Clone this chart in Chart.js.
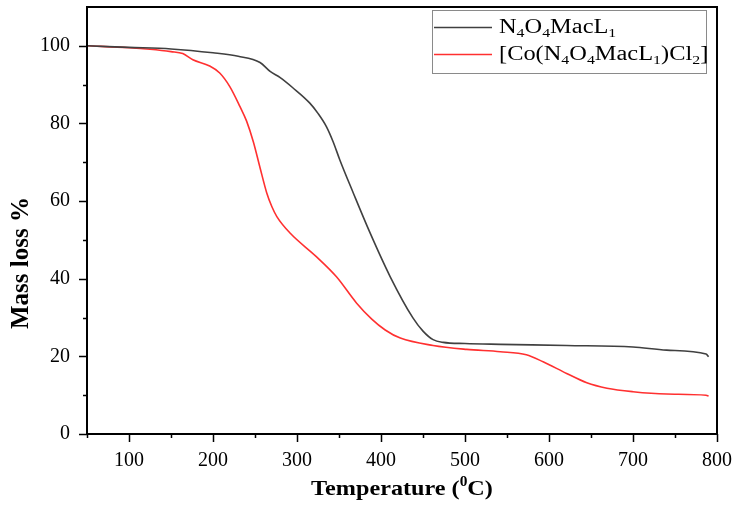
<!DOCTYPE html>
<html>
<head>
<meta charset="utf-8">
<script src="https://cdn.jsdelivr.net/npm/chart.js@4"></script>
<style>
  html, body { margin: 0; padding: 0; background: #fff; }
  #wrap { width: 742px; height: 506px; }
</style>
</head>
<body>
<div id="wrap"><canvas id="tgaChart"></canvas></div>
<script>
// TGA data
const ligandTemp = [50, 100, 150, 200, 230, 256, 268, 280, 295, 315, 325, 335, 343, 351, 367, 387, 411, 438, 450, 462, 474, 500, 542, 621, 700, 740, 787, 790];
const ligandMass = [100, 99.6, 99.2, 98.2, 97.3, 95.7, 93.4, 91.8, 89.2, 85.3, 82.6, 79.2, 75.3, 70.6, 62.1, 51.8, 40.5, 29.9, 26.5, 24.3, 23.6, 23.3, 23.1, 22.8, 22.4, 21.6, 20.6, 19.9];

const complexTemp = [50, 100, 125, 150, 164, 176, 196, 208, 220, 232, 240, 248, 256, 264, 270, 276, 292, 323, 347, 371, 389, 405, 423, 462, 502, 542, 573, 593, 621, 645, 669, 700, 740, 787, 790];
const complexMass = [100, 99.5, 99.1, 98.5, 98.0, 96.4, 94.8, 93.0, 89.5, 84.4, 80.6, 75.3, 68.6, 62.1, 58.6, 56.0, 51.7, 45.7, 40.5, 33.7, 29.6, 26.8, 24.7, 22.8, 21.8, 21.2, 20.4, 18.6, 15.6, 13.2, 11.8, 10.9, 10.3, 10.0, 9.8];

const xTicks = { min: 50, max: 800, step: 50, labelEvery: 100 };
const yTicks = { min: 0, max: 110, step: 10, labelEvery: 20 };

// legend entries: [text, subscript] pieces
const legendItems = [
    { color: '#404040', parts: [['N', ''], ['4', 'sub'], ['O', ''], ['4', 'sub'], ['MacL', ''], ['1', 'sub']] },
    { color: '#ff3030', parts: [['[Co(N', ''], ['4', 'sub'], ['O', ''], ['4', 'sub'], ['MacL', ''], ['1', 'sub'], [')Cl', ''], ['2', 'sub'], [']', '']] }
];

const SERIF = '"Liberation Serif", "Times New Roman", serif';

function toPoints(xs, ys) {
    return xs.map((x, i) => ({ x: x, y: ys[i] }));
}

// keep the plot box where the reference has it
function fixScale(s, size) {
    if (s.isHorizontal()) s.height = size; else s.width = size;
    s.paddingTop = 0;
    s.paddingBottom = 0;
    s.paddingLeft = 0;
    s.paddingRight = 0;
}

// draws frame, tick marks, axis titles and the legend
const decorations = {
    id: 'decorations',
    afterDraw(chart) {
        const ctx = chart.ctx;
        const a = chart.chartArea;
        const xs = chart.scales.x;
        const ys = chart.scales.y;

        ctx.save();
        ctx.strokeStyle = '#000';
        ctx.lineWidth = 2;
        ctx.strokeRect(a.left, a.top, a.right - a.left, a.bottom - a.top);

        // tick marks
        ctx.lineWidth = 1.5;
        ctx.beginPath();
        xs.ticks.forEach(t => {
            const px = Math.round(xs.getPixelForValue(t.value)) + 0.5;
            const len = t.value % xTicks.labelEvery === 0 ? 8 : 4;
            ctx.moveTo(px, a.bottom);
            ctx.lineTo(px, a.bottom + len);
        });
        ys.ticks.forEach(t => {
            if (t.value >= yTicks.max) return;
            const py = Math.round(ys.getPixelForValue(t.value)) + 0.5;
            const len = t.value % yTicks.labelEvery === 0 ? 8 : 4;
            ctx.moveTo(a.left, py);
            ctx.lineTo(a.left - len, py);
        });
        ctx.stroke();

        // y title
        ctx.fillStyle = '#000';
        ctx.font = 'bold 25px ' + SERIF;
        ctx.textAlign = 'center';
        ctx.textBaseline = 'middle';
        ctx.save();
        ctx.translate(22, 263);
        ctx.rotate(-Math.PI / 2);
        ctx.fillText('Mass loss %', 0, 0);
        ctx.restore();

        // x title with superscript, slightly widened like the reference
        const cx = (a.left + a.right) / 2;
        const big = 'bold 22px ' + SERIF;
        const small = 'bold 14px ' + SERIF;
        ctx.textAlign = 'left';
        ctx.textBaseline = 'alphabetic';
        ctx.font = big;
        const w1 = ctx.measureText('Temperature (').width;
        const w3 = ctx.measureText('C)').width;
        ctx.font = small;
        const w2 = ctx.measureText('0').width;
        const sx = 1.1;
        ctx.save();
        ctx.translate(cx - (w1 + w2 + w3) * sx / 2, 495);
        ctx.scale(sx, 1);
        ctx.font = big;
        ctx.fillText('Temperature (', 0, 0);
        ctx.font = small;
        ctx.fillText('0', w1, -9);
        ctx.font = big;
        ctx.fillText('C)', w1 + w2, 0);
        ctx.restore();

        // legend
        ctx.strokeStyle = '#8a8a8a';
        ctx.lineWidth = 1;
        ctx.strokeRect(432.5, 10.5, 274, 63);
        const rows = [27, 54];
        legendItems.forEach((item, i) => {
            const y = rows[i];
            ctx.strokeStyle = item.color;
            ctx.lineWidth = 1.5;
            ctx.beginPath();
            ctx.moveTo(434, y + 0.5);
            ctx.lineTo(492, y + 0.5);
            ctx.stroke();

            ctx.save();
            ctx.translate(499, y);
            ctx.scale(1.22, 1);
            let tx = 0;
            ctx.fillStyle = '#000';
            item.parts.forEach(([txt, kind]) => {
                if (kind === 'sub') {
                    ctx.font = '13px ' + SERIF;
                    ctx.fillText(txt, tx, 10);
                } else {
                    ctx.font = '20px ' + SERIF;
                    ctx.fillText(txt, tx, 6);
                }
                tx += ctx.measureText(txt).width;
            });
            ctx.restore();
        });
        ctx.restore();
    }
};

const ctx = document.getElementById('tgaChart').getContext('2d');

new Chart(ctx, {
    type: 'line',
    data: {
        datasets: [
            {
                label: 'N4O4MacL1',
                data: toPoints(ligandTemp, ligandMass),
                borderColor: '#404040',
                borderWidth: 1.6,
                pointRadius: 0,
                cubicInterpolationMode: 'monotone',
                fill: false
            },
            {
                label: '[Co(N4O4MacL1)Cl2]',
                data: toPoints(complexTemp, complexMass),
                borderColor: '#ff3030',
                borderWidth: 1.6,
                pointRadius: 0,
                cubicInterpolationMode: 'monotone',
                fill: false
            }
        ]
    },
    options: {
        responsive: true,
        maintainAspectRatio: false,
        animation: false,
        layout: { padding: { top: 7, right: 25, left: 0, bottom: 0 } },
        plugins: {
            legend: { display: false },
            tooltip: { enabled: false }
        },
        scales: {
            x: {
                type: 'linear',
                min: xTicks.min,
                max: xTicks.max,
                afterFit: s => fixScale(s, 72),
                grid: { display: true, drawOnChartArea: false, drawTicks: false },
                border: { display: false },
                ticks: {
                    stepSize: xTicks.step,
                    autoSkip: false,
                    maxRotation: 0,
                    padding: 15,
                    color: '#000',
                    font: { family: SERIF, size: 20 },
                    callback: v => (v % xTicks.labelEvery === 0 ? v : '')
                }
            },
            y: {
                min: yTicks.min,
                max: yTicks.max,
                afterFit: s => fixScale(s, 87),
                grid: { display: true, drawOnChartArea: false, drawTicks: false },
                border: { display: false },
                ticks: {
                    stepSize: yTicks.step,
                    autoSkip: false,
                    padding: 17,
                    color: '#000',
                    font: { family: SERIF, size: 20 },
                    callback: v => (v % yTicks.labelEvery === 0 && v <= 100 ? v : '')
                }
            }
        }
    },
    plugins: [decorations]
});
</script>
</body>
</html>
